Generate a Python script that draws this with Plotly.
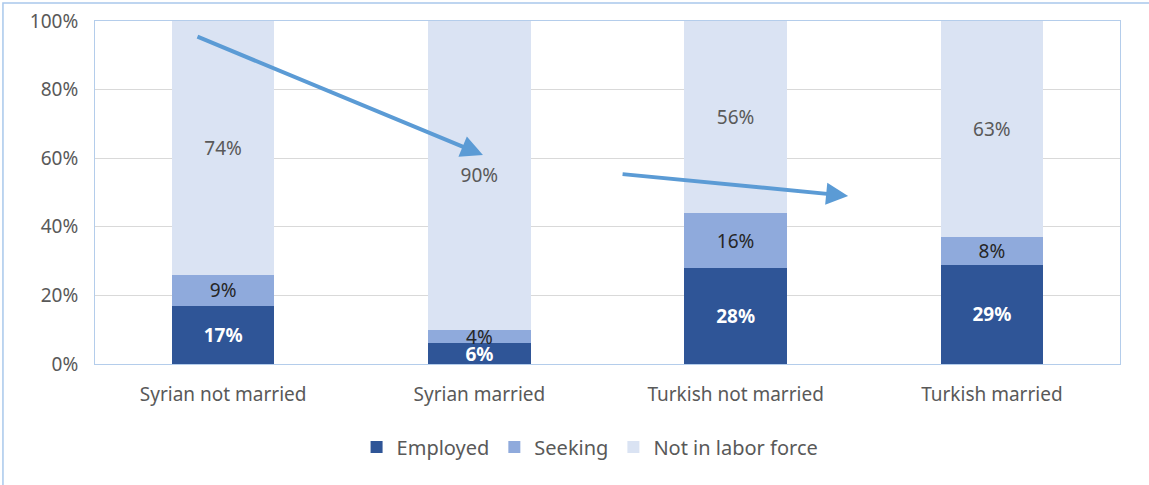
import plotly.graph_objects as go

categories = ['Syrian not married', 'Syrian married', 'Turkish not married', 'Turkish married']
employed = [17, 6, 28, 29]
seeking = [9, 4, 16, 8]
not_in_lf = [74, 90, 56, 63]
y_ticks = [0, 20, 40, 60, 80, 100]

colors = {'Employed': '#2F5597', 'Seeking': '#8FAADC', 'Not in labor force': '#DAE3F3'}
text_colors = {'Employed': 'white', 'Seeking': '#262626', 'Not in labor force': '#595959'}
FONT = 'Noto Sans'

fig = go.Figure()
for name, vals in [('Employed', employed), ('Seeking', seeking), ('Not in labor force', not_in_lf)]:
    fig.add_trace(go.Bar(
        x=categories, y=vals, name=name,
        marker=dict(color=colors[name], line=dict(width=0)),
        text=[f'{v}%' for v in vals], textposition='inside', insidetextanchor='middle',
        textfont=dict(color=text_colors[name], size=19, family=FONT,
                      weight='bold' if name == 'Employed' else 'normal'),
        constraintext='none', cliponaxis=False,
    ))

# trend arrows
arrows = [((-0.106, 95.6), (1.014, 60.9)), ((1.553, 55.4), (2.439, 49.0))]
for (x0, y0), (x1, y1) in arrows:
    fig.add_annotation(x=x1, y=y1, ax=x0, ay=y0, xref='x', yref='y', axref='x', ayref='y',
                       showarrow=True, arrowhead=2, arrowsize=1.1, arrowwidth=4,
                       arrowcolor='#5B9BD5', text='')

# outer frame
fig.add_shape(type='rect', xref='paper', yref='paper', x0=-0.0898, x1=1.05, y0=-0.4, y1=1.0525,
              line=dict(color='#A9C8EC', width=1.5), layer='below')

fig.update_layout(
    barmode='stack', bargap=0.6,
    width=1149, height=485,
    margin=dict(l=95, r=29, t=21, b=121),
    plot_bgcolor='white', paper_bgcolor='white',
    font=dict(family=FONT, size=19, color='#595959'),
    uniformtext=dict(minsize=15, mode='show'),
    legend=dict(orientation='h', x=0.483, xanchor='center', y=-0.185, yanchor='top',
                font=dict(size=20, color='#595959'), traceorder='normal', itemwidth=30),
    showlegend=True,
)
fig.update_yaxes(range=[0, 100], tickvals=y_ticks, ticktext=[f'{t}%' for t in y_ticks],
                 gridcolor='#D9D9D9', gridwidth=1.2, showline=True, linecolor='#B4CDEB',
                 mirror=True, zeroline=False, ticks='', ticklabelstandoff=12, automargin=False)
fig.update_xaxes(showline=True, linecolor='#B4CDEB', mirror=True, ticks='', ticklabelstandoff=13,
                 automargin=False)

fig.write_html('out.html', config={'displayModeBar': False},
               post_script="document.body.style.margin='0';")
